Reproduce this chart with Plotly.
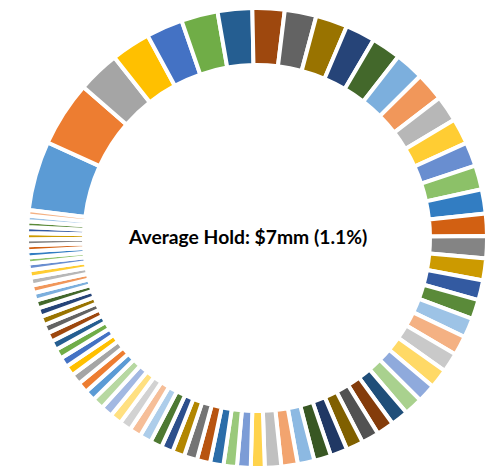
import colorsys
import plotly.graph_objects as go

# Holdings weights (% of portfolio), in chart order (clockwise from start)
weights = [
    4.86, 4.56, 2.97, 2.75, 2.56, 2.56,
    2.42, 2.25, 2.22, 2.22, 2.08, 2.06,
    2.03, 2.00, 1.83, 1.81, 1.69, 1.69,
    1.69, 1.56, 1.56, 1.53, 1.39, 1.36,
    1.36, 1.36, 1.36, 1.36, 1.28, 1.28,
    1.22, 1.22, 1.22, 1.19, 1.19, 1.19,
    1.17, 1.15, 1.15, 0.97, 0.96, 0.94,
    0.94, 0.93, 0.92, 0.86, 0.83, 0.83,
    0.83, 0.82, 0.82, 0.82, 0.82, 0.81,
    0.75, 0.75, 0.74, 0.71, 0.69, 0.69,
    0.64, 0.64, 0.61, 0.61, 0.61, 0.56,
    0.54, 0.54, 0.54, 0.53, 0.46, 0.42,
    0.43, 0.42, 0.42, 0.42, 0.42, 0.40,
    0.39, 0.39,
]
holdings = [f"Holding {i + 1}" for i in range(len(weights))]
center_label = "Average Hold: $7mm (1.1%)"

# Office theme accents and Excel-style luminance variations
base_colors = ["#5B9BD5", "#ED7D31", "#A5A5A5", "#FFC000", "#4472C4", "#70AD47"]
variations = [(1, 0), (0.6, 0), (0.8, 0.2), (0.8, 0), (0.6, 0.4),
              (0.5, 0), (0.7, 0.3), (0.7, 0), (0.5, 0.5)]


def vary(hexc, mod, off):
    r, g, b = (int(hexc[i:i + 2], 16) / 255 for i in (1, 3, 5))
    h, l, s = colorsys.rgb_to_hls(r, g, b)
    l = min(1.0, l * mod + off)
    r, g, b = colorsys.hls_to_rgb(h, l, s)
    return "#%02X%02X%02X" % (round(r * 255), round(g * 255), round(b * 255))


palette = [vary(c, m, o) for (m, o) in variations for c in base_colors]
colors = [palette[i % len(palette)] for i in range(len(weights))]

fig = go.Figure(
    go.Pie(
        labels=holdings,
        values=weights,
        sort=False,
        direction="clockwise",
        rotation=277,
        hole=0.752,
        textinfo="none",
        hoverinfo="label+percent",
        marker=dict(colors=colors, line=dict(color="white", width=4)),
        domain=dict(x=[25 / 489, 1.0], y=[0.0, 0.983]),
        showlegend=False,
    )
)

fig.add_annotation(
    text=f"<b>{center_label}</b>",
    x=247.5 / 489, y=(468 - 236.5) / 468,
    xref="paper", yref="paper",
    xanchor="center", yanchor="middle",
    showarrow=False,
    font=dict(family="Lato", size=19.3, color="black"),
)

fig.update_layout(
    width=489, height=468,
    margin=dict(l=0, r=0, t=0, b=0),
    paper_bgcolor="white",
    plot_bgcolor="white",
)

fig.write_html("out.html")
